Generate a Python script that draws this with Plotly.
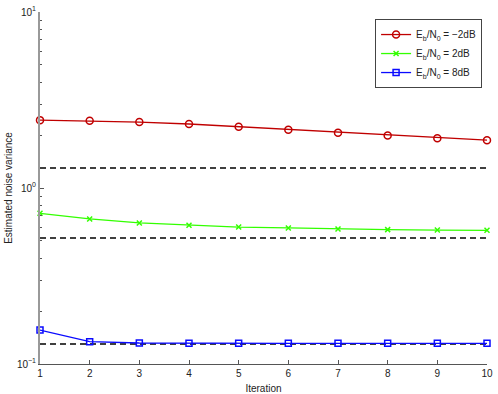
import plotly.graph_objects as go

iterations = [1, 2, 3, 4, 5, 6, 7, 8, 9, 10]
est_m2dB = [2.43, 2.41, 2.37, 2.31, 2.23, 2.14, 2.06, 1.99, 1.92, 1.87]
est_2dB = [0.718, 0.667, 0.633, 0.614, 0.600, 0.593, 0.585, 0.580, 0.577, 0.575]
est_8dB = [0.156, 0.134, 0.1316, 0.131, 0.131, 0.131, 0.131, 0.131, 0.131, 0.131]
true_var = [1.30, 0.52, 0.13]
labels = ["E<sub>b</sub>/N<sub>0</sub> = \u22122dB",
          "E<sub>b</sub>/N<sub>0</sub> = 2dB",
          "E<sub>b</sub>/N<sub>0</sub> = 8dB"]
colors = ["#C00000", "#33FF00", "#0A0AFF"]
symbols = ["circle-open", "x-thin-open", "square-open"]
ytick_vals = [0.1, 1, 10]
ytick_text = ["10<sup>\u22121</sup>", "10<sup>0</sup>", "10<sup>1</sup>"]

fig = go.Figure()
for tv in true_var:
    fig.add_trace(go.Scatter(x=[iterations[0], iterations[-1]], y=[tv, tv], mode="lines",
                             line=dict(color="black", width=1.5, dash="6px,4px"),
                             showlegend=False, hoverinfo="skip"))
for ys, lab, c, s, sz in zip([est_m2dB, est_2dB, est_8dB], labels, colors, symbols, [7, 5, 6]):
    fig.add_trace(go.Scatter(x=iterations, y=ys, mode="lines+markers", name=lab,
                             line=dict(color=c, width=1.3),
                             marker=dict(symbol=s, size=sz, color=c,
                                         line=dict(color=c, width=1.5)),
                             cliponaxis=False))

fig.update_layout(
    width=498, height=394,
    margin=dict(l=40, r=11, t=12, b=30, autoexpand=False),
    paper_bgcolor="white", plot_bgcolor="white",
    font=dict(family="Liberation Sans, Arial, sans-serif", size=10, color="#222"),
    showlegend=True,
    legend=dict(x=0.989, y=0.980, xanchor="right", yanchor="top",
                bgcolor="white", bordercolor="#444", borderwidth=1,
                font=dict(size=10), itemwidth=30, tracegroupgap=0),
    xaxis=dict(range=[1, 10], tickvals=iterations, ticks="inside", ticklen=4,
               tickcolor="#555", showline=True, linecolor="#555", linewidth=1,
               showgrid=False, zeroline=False, mirror=False, automargin=False,
               ticklabeloverflow="allow",
               title=dict(text="Iteration", standoff=6, font=dict(size=10))),
    yaxis=dict(type="log", range=[-1, 1], tickvals=ytick_vals, ticktext=ytick_text,
               ticks="inside", ticklen=4, tickcolor="#555", showline=True,
               linecolor="#999", linewidth=2, showgrid=False, zeroline=False,
               automargin=False, ticklabeloverflow="allow",
               minor=dict(ticks="inside", ticklen=2, tickcolor="#555", dtick="D1", showgrid=False),
               title=dict(text="Estimated noise variance", standoff=2, font=dict(size=10))),
)
fig.write_html("out.html", config={"displayModeBar": False},
               post_script="document.body.style.margin='0';document.body.style.overflow='hidden';")
